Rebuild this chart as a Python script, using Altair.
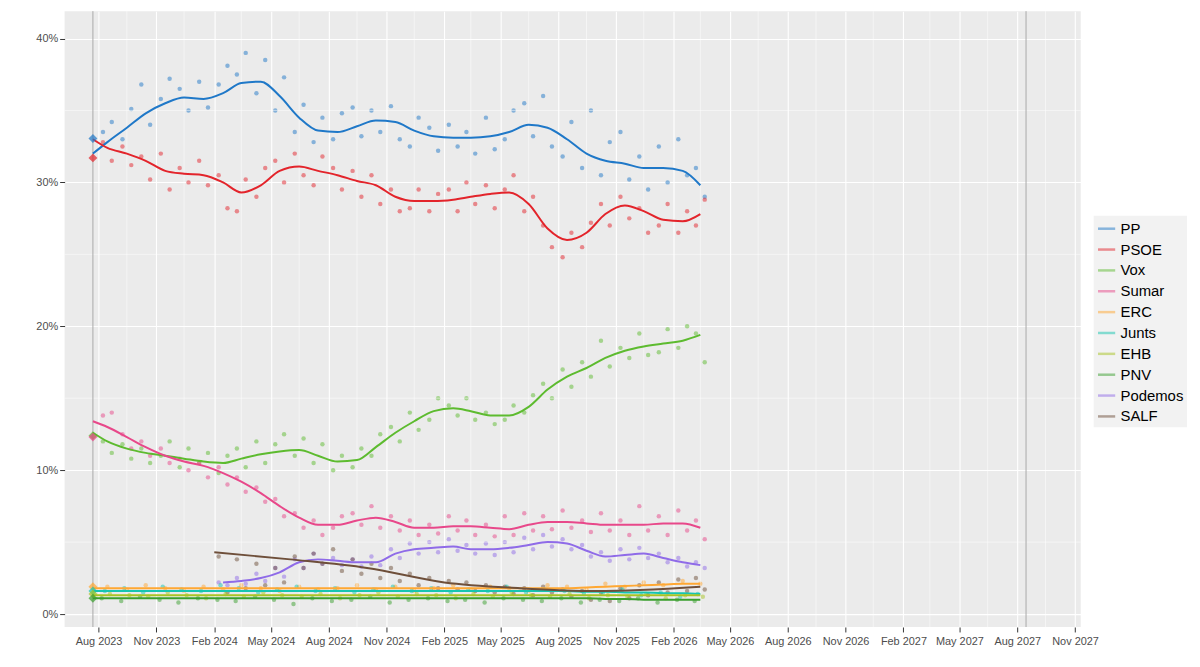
import altair as alt
import pandas as pd

parties = ["PP", "PSOE", "Vox", "Sumar", "ERC", "Junts", "EHB", "PNV", "Podemos", "SALF"]
colors = ["#1F78C8", "#E3242B", "#5DBB2F", "#E8488A", "#FFA833", "#17C5B0",
          "#A8C423", "#3A9F2E", "#8F6BE8", "#6E4F3A"]

# resultado elecciones 23J
election_date = "2023-07-23"
election = {"PP": 33.05, "PSOE": 31.7, "Vox": 12.4, "Sumar": 12.3, "ERC": 1.9,
            "Junts": 1.6, "EHB": 1.4, "PNV": 1.1}

# encuestas: dos por mes (días 8 y 22), ago 2023 - mar 2026
pp_polls = [33.5, 34.2, 33.0, 35.1, 36.8, 34.0, 35.8, 37.2, 36.5, 35.0, 37.0, 35.2, 36.8, 38.1,
            37.5, 39.0, 36.2, 38.5, 35.0, 37.3, 33.5, 35.4, 32.8, 34.5, 33.0, 34.8, 35.2, 33.2,
            35.0, 33.5, 35.3, 33.0, 32.5, 34.5, 33.8, 32.2, 34.0, 32.5, 33.5, 32.0, 34.5, 32.3,
            33.0, 35.0, 35.5, 33.2, 36.0, 32.5, 31.8, 34.2, 31.0, 35.0, 30.5, 32.8, 33.5, 30.2,
            31.8, 29.5, 32.5, 30.0, 33.0, 30.5, 31.0, 29.0]
psoe_polls = [32.8, 31.5, 32.5, 31.2, 31.8, 30.2, 32.0, 29.5, 31.0, 30.0, 31.5, 29.8, 30.5, 28.2,
              28.0, 30.2, 29.0, 31.0, 31.5, 30.0, 32.0, 30.5, 29.8, 31.8, 31.0, 29.5, 30.8, 29.0,
              30.5, 28.5, 29.5, 28.0, 28.2, 29.5, 28.0, 29.2, 29.5, 28.0, 30.0, 28.5, 29.8, 28.2,
              29.5, 30.5, 28.0, 29.0, 27.0, 25.5, 24.8, 26.5, 25.5, 27.2, 28.5, 27.0, 29.0, 27.5,
              28.2, 26.5, 27.0, 28.5, 26.5, 28.0, 27.0, 28.8]
vox_polls = [12.0, 11.2, 11.8, 10.8, 11.5, 10.5, 11.0, 12.0, 10.2, 11.5, 10.5, 11.2, 9.8, 11.0,
             11.5, 10.2, 12.0, 10.5, 11.8, 12.5, 11.0, 12.2, 10.5, 11.8, 10.0, 11.0, 10.2, 11.5,
             11.0, 12.5, 13.0, 12.0, 14.0, 12.8, 13.5, 15.0, 14.5, 13.8, 15.0, 13.5, 14.0, 13.2,
             13.5, 14.5, 14.0, 15.2, 16.0, 15.0, 17.0, 15.8, 17.5, 16.5, 19.0, 17.2, 18.5, 17.8,
             19.5, 18.0, 18.2, 19.8, 18.5, 20.0, 19.5, 17.5]
sumar_polls = [13.8, 14.0, 12.5, 11.5, 12.0, 11.0, 11.5, 10.5, 10.8, 10.0, 10.5, 9.5, 10.2, 9.0,
               9.5, 8.5, 8.8, 7.8, 8.0, 6.8, 7.0, 6.0, 6.5, 5.5, 6.0, 6.8, 7.0, 6.2, 7.5, 6.0,
               6.8, 5.8, 6.5, 5.5, 6.2, 5.6, 6.8, 5.8, 6.5, 5.5, 6.2, 5.4, 6.8, 5.5, 7.0, 5.8,
               6.8, 5.9, 7.2, 6.0, 6.5, 5.7, 7.0, 5.8, 6.5, 5.5, 7.5, 5.8, 6.8, 5.5, 7.2, 5.8,
               6.5, 5.2]
# feb 2024 - mar 2026
podemos_polls = [2.2, 2.0, 2.5, 2.1, 2.8, 2.3, 3.2, 2.6, 3.8, 3.2, 4.2, 3.5, 3.9, 3.4, 3.8, 3.3,
                 4.0, 3.4, 4.5, 3.9, 4.9, 4.2, 5.0, 4.3, 5.2, 4.4, 4.8, 4.2, 4.9, 4.1, 5.0, 4.3,
                 5.3, 4.5, 5.5, 4.7, 5.2, 4.5, 4.8, 4.0, 4.3, 3.7, 4.5, 3.8, 4.6, 3.9, 4.2, 3.6,
                 3.9, 3.3, 3.6, 3.2]
salf_polls = [4.0, 1.5, 3.8, 1.8, 3.5, 2.0, 3.2, 2.2, 4.0, 3.2, 4.2, 3.5, 4.5, 3.0, 3.8, 2.8,
              3.5, 2.5, 3.2, 2.3, 2.8, 2.0, 2.5, 1.8, 2.3, 1.7, 2.2, 1.6, 2.0, 1.5, 1.9, 1.4,
              1.8, 1.3, 1.9, 1.5, 1.7, 1.2, 1.6, 1.0, 1.5, 0.9, 1.8, 1.1, 2.0, 1.3, 2.2, 1.5,
              2.4, 1.6, 2.5, 1.7]
# una por mes, ago 2023 - mar 2026
erc_polls = [1.9, 1.7, 2.0, 1.8, 1.6, 1.9, 1.7, 2.0, 1.8, 1.6, 1.9, 1.7, 1.8, 2.0, 1.7, 1.9,
             1.6, 1.8, 2.0, 1.7, 1.9, 1.8, 1.6, 2.0, 1.9, 1.7, 2.1, 1.9, 2.2, 2.0, 2.3, 2.1]
junts_polls = [1.6, 1.8, 1.5, 1.9, 1.7, 1.6, 2.0, 1.8, 1.5, 1.7, 1.9, 1.6, 1.8, 1.5, 1.7, 1.9,
               1.6, 1.8, 1.5, 1.7, 1.6, 1.9, 1.5, 1.7, 1.6, 1.4, 1.5, 1.7, 1.3, 1.5, 1.2, 1.4]
ehb_polls = [1.4, 1.3, 1.2, 1.5, 1.3, 1.1, 1.4, 1.2, 1.5, 1.3, 1.2, 1.4, 1.1, 1.3, 1.5, 1.2,
             1.4, 1.3, 1.1, 1.4, 1.2, 1.5, 1.3, 1.2, 1.4, 1.1, 1.3, 1.2, 1.4, 1.1, 1.3, 1.2]
pnv_polls = [1.1, 0.9, 1.2, 1.0, 0.8, 1.1, 1.0, 0.9, 1.2, 1.0, 0.7, 1.1, 0.9, 1.0, 1.2, 0.8,
             1.0, 1.1, 0.9, 1.0, 0.8, 1.1, 1.0, 0.9, 1.1, 0.8, 1.0, 0.9, 1.1, 0.8, 1.0, 0.9]

# tendencia mensual, jul 2023 - mar 2026 (33 valores)
pp_trend = [32.0, 32.8, 33.8, 34.8, 35.5, 35.9, 35.8, 36.2, 36.9, 37.0, 36.0, 34.5, 33.6, 33.5,
            33.9, 34.3, 34.2, 33.6, 33.2, 33.1, 33.1, 33.2, 33.5, 34.0, 33.8, 33.0, 32.0, 31.5,
            31.3, 31.0, 31.0, 30.8, 29.8]
psoe_trend = [33.0, 32.4, 32.0, 31.5, 30.8, 30.6, 30.5, 30.0, 29.3, 29.8, 30.8, 31.1, 30.8, 30.5,
              30.1, 29.8, 29.0, 28.7, 28.7, 28.8, 29.0, 29.2, 29.3, 28.5, 26.8, 26.0, 26.5, 27.8,
              28.4, 28.0, 27.4, 27.3, 27.8]
vox_trend = [12.6, 12.0, 11.5, 11.2, 11.0, 10.8, 10.6, 10.5, 10.8, 11.1, 11.3, 11.4, 11.0, 10.6,
             10.7, 11.6, 12.6, 13.4, 14.1, 14.3, 14.1, 13.8, 13.8, 14.4, 15.6, 16.5, 17.1, 17.8,
             18.3, 18.6, 18.8, 19.0, 19.4]
sumar_trend = [13.4, 13.0, 12.3, 11.6, 11.0, 10.6, 10.3, 9.8, 9.2, 8.4, 7.5, 6.7, 6.2, 6.2, 6.5,
               6.7, 6.4, 6.0, 6.0, 6.1, 6.1, 6.0, 5.9, 6.2, 6.4, 6.4, 6.3, 6.2, 6.2, 6.2, 6.3, 6.3,
               6.0]
erc_trend = [1.8] * 25 + [1.8, 1.85, 1.9, 1.95, 2.0, 2.05, 2.1, 2.1]
junts_trend = [1.6] * 25 + [1.6, 1.55, 1.55, 1.5, 1.5, 1.45, 1.45, 1.4]
ehb_trend = [1.3] * 33
pnv_trend = [1.1] * 27 + [1.05, 1.05, 1.0, 1.0, 1.0, 1.0]
# feb 2024 - mar 2026 (26 valores)
podemos_trend = [2.2, 2.3, 2.5, 2.9, 3.6, 3.8, 3.7, 3.6, 3.6, 4.2, 4.5, 4.6, 4.7, 4.5, 4.5, 4.6,
                 4.8, 5.0, 4.9, 4.4, 4.0, 4.1, 4.2, 3.9, 3.6, 3.4]
salf_trend_dates = ["2024-02-01", "2024-06-01", "2024-10-01", "2025-02-01", "2025-06-01",
                    "2025-10-01", "2026-03-15"]
salf_trend = [4.3, 3.8, 3.2, 2.2, 1.8, 1.6, 1.9]

months_all = pd.date_range("2023-08-01", "2026-03-01", freq="MS")
months_salf = pd.date_range("2024-02-01", "2026-03-01", freq="MS")


def twice(months):
    out = []
    for m in months:
        out += [m + pd.Timedelta(days=7), m + pd.Timedelta(days=21)]
    return out


poll_rows = []
for party, vals, dates in [
    ("PP", pp_polls, twice(months_all)), ("PSOE", psoe_polls, twice(months_all)),
    ("Vox", vox_polls, twice(months_all)), ("Sumar", sumar_polls, twice(months_all)),
    ("Podemos", podemos_polls, twice(months_salf)), ("SALF", salf_polls, twice(months_salf)),
    ("ERC", erc_polls, [m + pd.Timedelta(days=14) for m in months_all]),
    ("Junts", junts_polls, [m + pd.Timedelta(days=10) for m in months_all]),
    ("EHB", ehb_polls, [m + pd.Timedelta(days=18) for m in months_all]),
    ("PNV", pnv_polls, [m + pd.Timedelta(days=5) for m in months_all]),
]:
    for d, v in zip(dates, vals):
        poll_rows.append({"fecha": d, "partido": party, "valor": v})
polls = pd.DataFrame(poll_rows)

trend_dates = [pd.Timestamp(election_date)] + list(months_all + pd.Timedelta(days=14))
trend_rows = []
for party, vals in [("PP", pp_trend), ("PSOE", psoe_trend), ("Vox", vox_trend),
                    ("Sumar", sumar_trend), ("ERC", erc_trend), ("Junts", junts_trend),
                    ("EHB", ehb_trend), ("PNV", pnv_trend)]:
    for d, v in zip(trend_dates, vals):
        trend_rows.append({"fecha": d, "partido": party, "valor": v})
for d, v in zip(months_salf + pd.Timedelta(days=14), podemos_trend):
    trend_rows.append({"fecha": d, "partido": "Podemos", "valor": v})
for d, v in zip(salf_trend_dates, salf_trend):
    trend_rows.append({"fecha": pd.Timestamp(d), "partido": "SALF", "valor": v})
trends = pd.DataFrame(trend_rows)

elec = pd.DataFrame({"fecha": pd.Timestamp(election_date), "partido": list(election.keys()),
                     "valor": list(election.values())})

tick_dates = pd.date_range("2023-08-01", "2027-11-01", freq="3MS")
minor_dates = tick_dates[:-1] + pd.DateOffset(months=1, days=14)
x_dom = [pd.Timestamp("2023-06-08").isoformat(), pd.Timestamp("2027-11-10").isoformat()]

x_enc = alt.X("fecha:T", title=None,
              scale=alt.Scale(domain=x_dom, nice=False),
              axis=alt.Axis(values=[d.isoformat() for d in tick_dates], format="%b %Y",
                            labelColor="#4D4D4D", labelFontSize=11, tickColor="#333",
                            gridColor="white", gridWidth=1.1, domain=False, labelPadding=4))
y_enc = alt.Y("valor:Q", title=None,
              scale=alt.Scale(domain=[-0.9, 41.9], nice=False, zero=False),
              axis=alt.Axis(values=[0, 10, 20, 30, 40], labelExpr="datum.value + '%'",
                            labelColor="#4D4D4D", labelFontSize=11, tickColor="#333",
                            gridColor="white", gridWidth=1.1, domain=False))
color = alt.Color("partido:N", scale=alt.Scale(domain=parties, range=colors),
                  legend=alt.Legend(title=None, symbolType="stroke", symbolStrokeWidth=2.5,
                                    symbolSize=300, labelFontSize=15, labelColor="black",
                                    fillColor="#F2F2F2", padding=3, rowPadding=3,
                                    labelFont="Liberation Sans", orient="none",
                                    legendX=1036, legendY=206))

minor_y = alt.Chart(pd.DataFrame({"v": [5, 15, 25, 35]})).mark_rule(
    color="white", strokeWidth=0.5).encode(y=alt.Y("v:Q"))
minor_x = alt.Chart(pd.DataFrame({"fecha": minor_dates})).mark_rule(
    color="white", strokeWidth=0.5).encode(x=alt.X("fecha:T"))
vlines = alt.Chart(pd.DataFrame({"fecha": [pd.Timestamp(election_date),
                                           pd.Timestamp("2027-08-15")]})).mark_rule(
    color="#A8A8A8", strokeWidth=1).encode(x=alt.X("fecha:T"))

points = alt.Chart(polls).mark_point(size=20, filled=True, opacity=0.5, strokeWidth=0.8).encode(
    x=x_enc, y=y_enc, color=color)
lines = alt.Chart(trends).mark_line(strokeWidth=2, interpolate="monotone").encode(
    x="fecha:T", y="valor:Q", color="partido:N")
diamonds = alt.Chart(elec).mark_point(shape="diamond", filled=True, size=80, opacity=0.7).encode(
    x="fecha:T", y="valor:Q", color="partido:N")

chart = alt.layer(points, minor_y, minor_x, vlines, lines, diamonds).properties(
    width=1023, height=620, background="white",
    padding={"left": 27, "top": 0, "right": 5, "bottom": 5}
).configure_view(fill="#EBEBEB", stroke=None)

chart.save("out.html", embed_options={"renderer": "svg", "actions": False})
